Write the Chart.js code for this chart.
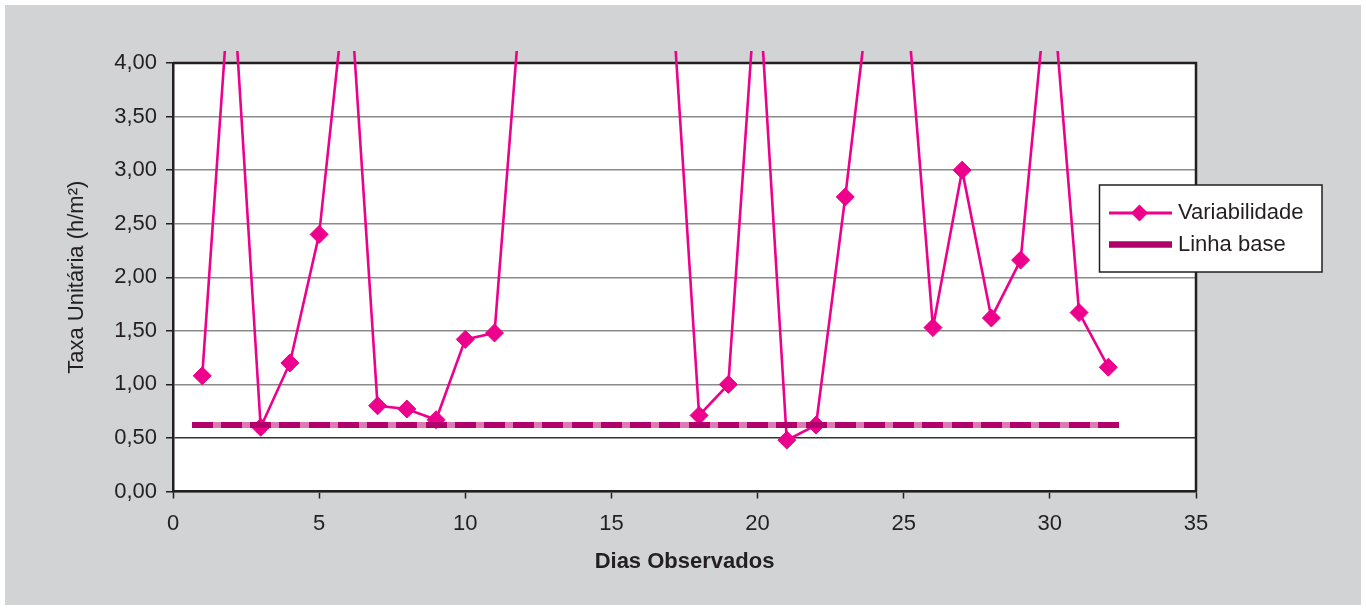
<!DOCTYPE html>
<html>
<head>
<meta charset="utf-8">
<script src="https://cdn.jsdelivr.net/npm/chart.js@4.4.1/dist/chart.umd.min.js"></script>
<style>
  html, body { margin: 0; padding: 0; background: #ffffff; }
  canvas { display: block; }
</style>
</head>
<body>
<canvas id="chart" width="1366" height="610"></canvas>
<script>
// Observed days
const days = [1, 2, 3, 4, 5, 6, 7, 8, 9, 10, 11, 12, 13, 14, 15, 16,
              17, 18, 19, 20, 21, 22, 23, 24, 25, 26, 27, 28, 29, 30, 31, 32];

// Unit rate per day (h/m²)
const variabilidade = [1.08, 5.00, 0.60, 1.20, 2.40, 4.95, 0.80, 0.77, 0.67, 1.42, 1.48, 4.94,
                       5.30, 5.10, 5.60, 5.20, 4.96, 0.71, 1.00, 4.95, 0.48, 0.62, 2.75, 5.05,
                       4.95, 1.53, 3.00, 1.62, 2.16, 5.00, 1.67, 1.16];

// Baseline rate (h/m²)
const linhaBase = [0.62, 0.62, 0.62, 0.62, 0.62, 0.62, 0.62, 0.62, 0.62, 0.62, 0.62, 0.62,
                   0.62, 0.62, 0.62, 0.62, 0.62, 0.62, 0.62, 0.62, 0.62, 0.62, 0.62, 0.62,
                   0.62, 0.62, 0.62, 0.62, 0.62, 0.62, 0.62, 0.62];

const xTickLabels = ['0', '5', '10', '15', '20', '25', '30', '35'];
const yTickLabels = ['0,00', '0,50', '1,00', '1,50', '2,00', '2,50', '3,00', '3,50', '4,00'];

const seriesLabels = ['Variabilidade', 'Linha base'];

const INK = '#231f20';
const MAGENTA = '#ec008c';
const BASE_DARK = '#b0006a';
const BASE_LIGHT = '#dc7cb2';

// Prefer a narrow sans face when it is installed; otherwise use the regular one
function hasFont(name) {
  const c = document.createElement('canvas').getContext('2d');
  const probe = 'Variabilidade 0123456789';
  c.font = '40px monospace';
  const w0 = c.measureText(probe).width;
  c.font = '40px "' + name + '", monospace';
  return Math.abs(c.measureText(probe).width - w0) > 0.5;
}
const NARROW = hasFont('Liberation Sans Narrow');
const FONT = NARROW ? '"Liberation Sans Narrow", "Liberation Sans", sans-serif'
                    : '"Liberation Sans", Arial, sans-serif';
const TICK_SIZE = NARROW ? 25 : 22;
const TITLE_SIZE = NARROW ? 26 : 22;

Chart.defaults.font.family = FONT;
Chart.defaults.color = INK;

// Dash-shaped marker used on the baseline
const baseMarker = document.createElement('canvas');
baseMarker.width = 21;
baseMarker.height = 6;
(function () {
  const c = baseMarker.getContext('2d');
  c.fillStyle = BASE_DARK;
  c.fillRect(0, 0, 21, 6);
})();

const toPoints = (ys) => days.map((d, i) => ({ x: d, y: ys[i] }));

// Page frame, plot background and top/right plot border
const framePlugin = {
  id: 'frame',
  beforeDraw(chart) {
    const { ctx, chartArea: a } = chart;
    ctx.save();
    ctx.fillStyle = '#ffffff';
    ctx.fillRect(0, 0, chart.width, chart.height);
    ctx.fillStyle = '#d1d3d4';
    ctx.fillRect(5, 5, chart.width - 10, chart.height - 10);
    ctx.fillStyle = '#ffffff';
    ctx.fillRect(a.left, a.top, a.right - a.left, a.bottom - a.top);
    ctx.restore();
  },
  beforeDatasetsDraw(chart) {
    const { ctx, chartArea: a } = chart;
    ctx.save();
    ctx.strokeStyle = INK;
    ctx.lineWidth = 2.5;
    ctx.beginPath();
    ctx.moveTo(a.left, a.top);
    ctx.lineTo(a.right, a.top);
    ctx.lineTo(a.right, a.bottom);
    ctx.stroke();
    ctx.restore();
  }
};

// Boxed legend at the right of the plot
const legendPlugin = {
  id: 'boxLegend',
  afterDraw(chart) {
    const ctx = chart.ctx;
    const bx = 1099.5, by = 185, bw = 222.5, bh = 87;
    ctx.save();
    ctx.fillStyle = '#ffffff';
    ctx.fillRect(bx, by, bw, bh);
    ctx.strokeStyle = INK;
    ctx.lineWidth = 1.5;
    ctx.strokeRect(bx, by, bw, bh);

    // Variabilidade entry
    let y = 213;
    ctx.strokeStyle = MAGENTA;
    ctx.lineWidth = 3;
    ctx.beginPath();
    ctx.moveTo(1109, y);
    ctx.lineTo(1172, y);
    ctx.stroke();
    ctx.fillStyle = MAGENTA;
    ctx.beginPath();
    ctx.moveTo(1139.5 - 8.5, y);
    ctx.lineTo(1139.5, y - 8.5);
    ctx.lineTo(1139.5 + 8.5, y);
    ctx.lineTo(1139.5, y + 8.5);
    ctx.closePath();
    ctx.fill();

    // Linha base entry
    y = 244.5;
    ctx.strokeStyle = BASE_DARK;
    ctx.lineWidth = 6.5;
    ctx.beginPath();
    ctx.moveTo(1109, y);
    ctx.lineTo(1172, y);
    ctx.stroke();

    ctx.fillStyle = INK;
    ctx.font = TICK_SIZE + 'px ' + FONT;
    ctx.textAlign = 'left';
    ctx.textBaseline = 'middle';
    ctx.fillText(chart.data.datasets[1].label, 1178, 213);
    ctx.fillText(chart.data.datasets[0].label, 1178, 245);
    ctx.restore();
  }
};

new Chart(document.getElementById('chart'), {
  type: 'line',
  data: {
    datasets: [
      {
        label: seriesLabels[1],
        data: toPoints(linhaBase),
        borderColor: BASE_LIGHT,
        backgroundColor: BASE_DARK,
        borderWidth: 6,
        pointStyle: baseMarker,
        pointRadius: 10,
        pointHoverRadius: 10,
        tension: 0,
        clip: { left: 20, top: 12, right: 20, bottom: 20 }
      },
      {
        label: seriesLabels[0],
        data: toPoints(variabilidade),
        borderColor: MAGENTA,
        backgroundColor: MAGENTA,
        borderWidth: 2.6,
        pointStyle: 'rectRot',
        pointRadius: 9,
        pointHoverRadius: 9,
        pointBorderWidth: 1,
        pointBackgroundColor: MAGENTA,
        pointBorderColor: MAGENTA,
        tension: 0,
        clip: { left: 20, top: 12, right: 20, bottom: 20 }
      }
    ]
  },
  options: {
    responsive: false,
    animation: false,
    devicePixelRatio: 1,
    layout: { padding: { left: 0, top: 63, right: 170, bottom: 0 } },
    plugins: {
      legend: { display: false },
      tooltip: { enabled: false }
    },
    scales: {
      x: {
        type: 'linear',
        min: 0,
        max: 35,
        afterFit(scale) { scale.height = 118.5; },
        ticks: {
          stepSize: 5,
          padding: NARROW ? 10 : 12,
          font: { size: TICK_SIZE },
          color: INK,
          callback: (v, i) => xTickLabels[i]
        },
        grid: {
          drawOnChartArea: false,
          drawTicks: true,
          tickLength: 7,
          tickColor: INK,
          tickWidth: 1.5
        },
        border: { color: INK, width: 2.5 },
        title: {
          display: true,
          text: 'Dias Observados',
          font: { size: TITLE_SIZE, weight: 'bold' },
          color: INK,
          padding: { top: 0, bottom: NARROW ? 33 : 34.5 }
        }
      },
      y: {
        type: 'linear',
        min: 0,
        max: 4,
        afterFit(scale) { scale.width = 173; },
        ticks: {
          stepSize: 0.5,
          padding: 9,
          font: { size: TICK_SIZE },
          color: INK,
          callback: (v, i) => yTickLabels[i]
        },
        grid: {
          color: (c) => (c.tick && c.tick.value === 0.5 ? '#333333' : '#8a8a8a'),
          lineWidth: 1.5,
          drawTicks: true,
          tickLength: 7,
          tickColor: INK,
          tickWidth: 1.5
        },
        border: { color: INK, width: 2.5 },
        title: {
          display: true,
          text: 'Taxa Unitária (h/m²)',
          font: { size: TITLE_SIZE },
          color: INK,
          padding: { top: NARROW ? 62 : 63.8, bottom: 0 }
        }
      }
    }
  },
  plugins: [framePlugin, legendPlugin]
});
</script>
</body>
</html>
